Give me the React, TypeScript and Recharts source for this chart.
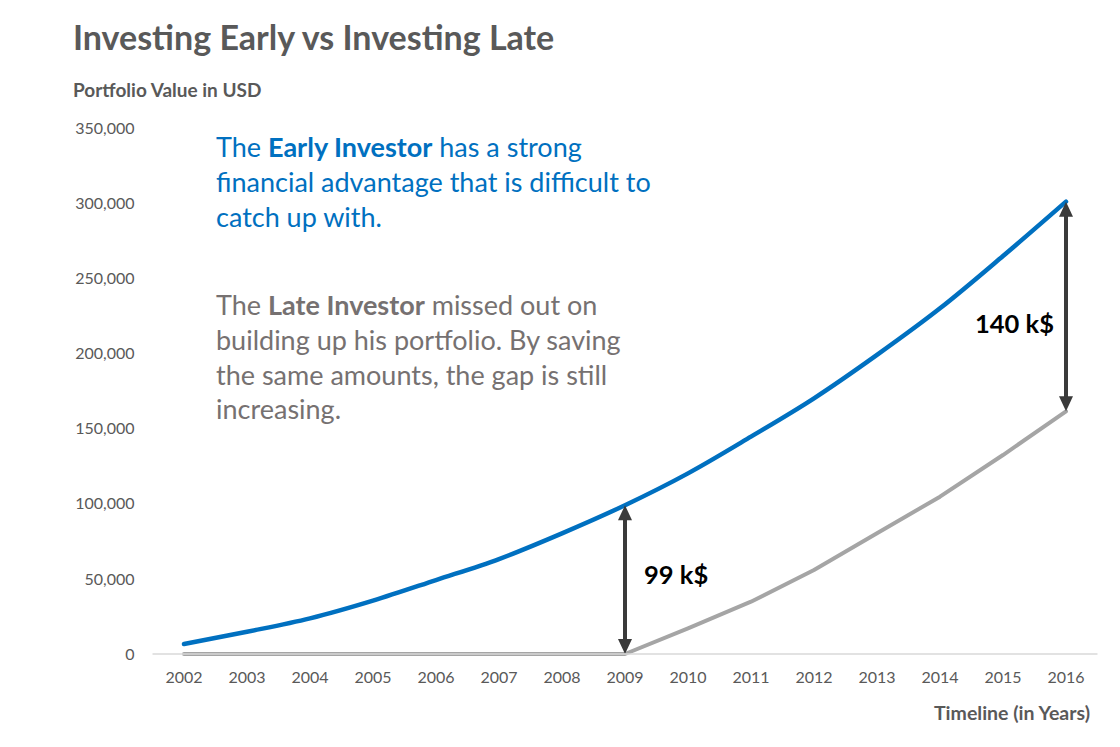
import React from 'react';
import { LineChart, Line, XAxis, YAxis, ReferenceLine } from 'recharts';

const years = ['2002', '2003', '2004', '2005', '2006', '2007', '2008', '2009', '2010', '2011', '2012', '2013', '2014', '2015', '2016'];
const earlyInvestor = [6600, 14800, 23700, 35500, 49200, 63200, 80300, 99000, 120200, 144600, 170100, 199000, 230000, 264800, 301000];
const lateInvestor = [0, 0, 0, 0, 0, 0, 0, 0, 17000, 34800, 55900, 80300, 104700, 132400, 161500];
const yTicks = [0, 50000, 100000, 150000, 200000, 250000, 300000, 350000];

const data = years.map((y, i) => ({ year: y, early: earlyInvestor[i], late: lateInvestor[i] }));

const FONT = 'Lato, "Open Sans", sans-serif';
const ARROW = '#3A3A3A';

const fmt = (v: number) => v.toLocaleString('en-US');

function makeArrow(label: string, side: 'right' | 'left', labelDy: number) {
  return (props: any) => {
    const { x1, y1, x2, y2 } = props;
    const x = x1;
    const top = Math.min(y1, y2);
    const bot = Math.max(y1, y2);
    const hw = 7;
    const hl = 15;
    const mid = (top + bot) / 2;
    return (
      <g>
        <line x1={x} x2={x} y1={top + hl - 1} y2={bot - hl + 1} stroke={ARROW} strokeWidth={4} />
        <polygon points={`${x},${top} ${x - hw},${top + hl} ${x + hw},${top + hl}`} fill={ARROW} />
        <polygon points={`${x},${bot} ${x - hw},${bot - hl} ${x + hw},${bot - hl}`} fill={ARROW} />
        <text
          x={side === 'right' ? x + 19 : x - 12}
          y={mid + labelDy}
          textAnchor={side === 'right' ? 'start' : 'end'}
          dominantBaseline="central"
          fontFamily={FONT}
          fontWeight={700}
          fontSize={25.5}
          fill="#000"
        >
          {label}
        </text>
      </g>
    );
  };
}

export default function App() {
  return (
    <div style={{ position: 'absolute', left: 0, top: 0, width: 1120, height: 747, background: '#fff', fontFamily: FONT }}>
      <LineChart width={1120} height={747} data={data} margin={{ top: 128, right: 22.5, bottom: 63, left: 72.5 }}>
        <XAxis
          dataKey="year"
          padding={{ left: 31.5, right: 31.5 }}
          tickLine={false}
          tickSize={6}
          tickMargin={12}
          height={30}
          axisLine={{ stroke: '#D9D9D9', strokeWidth: 1.5 }}
          tick={{ fill: '#595959', fontSize: 16, fontFamily: FONT }}
          interval={0}
        />
        <YAxis
          domain={[0, 350000]}
          ticks={yTicks}
          width={80}
          tickLine={false}
          axisLine={false}
          tickSize={6}
          tickMargin={12}
          tickFormatter={fmt}
          tick={{ fill: '#595959', fontSize: 16, fontFamily: FONT }}
        />
        <Line dataKey="late" type="linear" stroke="#A5A5A5" strokeWidth={4} dot={false} isAnimationActive={false} strokeLinecap="round" strokeLinejoin="round" />
        <Line dataKey="early" type="monotone" stroke="#0070C0" strokeWidth={4.5} dot={false} isAnimationActive={false} strokeLinecap="round" />
        <ReferenceLine
          segment={[{ x: years[7], y: lateInvestor[7] }, { x: years[7], y: earlyInvestor[7] }]}
          shape={makeArrow('99 k$', 'right', -6)}
        />
        <ReferenceLine
          segment={[{ x: years[14], y: lateInvestor[14] }, { x: years[14], y: earlyInvestor[14] }]}
          shape={makeArrow('140 k$', 'left', 17)}
        />
      </LineChart>
      <svg width={1120} height={747} style={{ position: 'absolute', left: 0, top: 0, pointerEvents: 'none' }}>
        <text x={73} y={50} fontFamily={FONT} fontWeight={700} fontSize={34} fill="#595959">Investing Early vs Investing Late</text>
        <text x={73} y={97} fontFamily={FONT} fontWeight={700} fontSize={19} fill="#595959">Portfolio Value in USD</text>
        <text x={1090} y={720} textAnchor="end" fontFamily={FONT} fontWeight={700} fontSize={19.5} fill="#595959">Timeline (in Years)</text>
        <g fontFamily={FONT} fontSize={27} fill="#0070C0">
          <text x={216} y={157}>The <tspan fontWeight={700}>Early Investor</tspan> has a strong</text>
          <text x={216} y={192}>financial advantage that is difficult to</text>
          <text x={216} y={226.5}>catch up with.</text>
        </g>
        <g fontFamily={FONT} fontSize={27} fill="#767171">
          <text x={216} y={315}>The <tspan fontWeight={700}>Late Investor</tspan> missed out on</text>
          <text x={216} y={350}>building up his portfolio. By saving</text>
          <text x={216} y={385}>the same amounts, the gap is still</text>
          <text x={216} y={419}>increasing.</text>
        </g>
      </svg>
    </div>
  );
}
